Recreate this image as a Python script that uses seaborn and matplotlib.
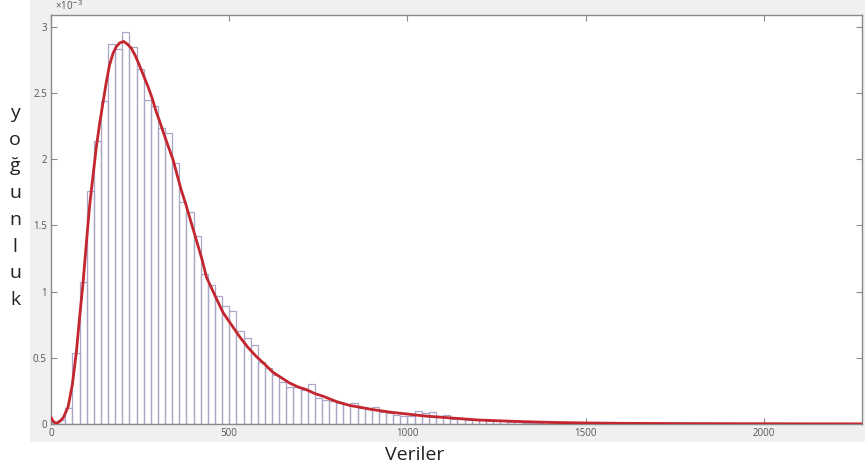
import numpy as np
import pandas as pd
import matplotlib
matplotlib.use("Agg")
import matplotlib.pyplot as plt
import seaborn as sns

# ---- data (density values in units of 1e-3) ----
bin_width = 20
bin_starts = list(range(0, 1540, 20))
bin_heights = [
    0.01, 0.03, 0.12, 0.54, 1.07, 1.76, 2.14, 2.44, 2.87, 2.83,
    2.96, 2.85, 2.68, 2.45, 2.40, 2.24, 2.20, 1.97, 1.68, 1.60,
    1.42, 1.13, 1.05, 0.97, 0.89, 0.85, 0.70, 0.65, 0.60, 0.47,
    0.42, 0.37, 0.32, 0.28, 0.28, 0.26, 0.30, 0.20, 0.18, 0.17,
    0.16, 0.15, 0.16, 0.12, 0.11, 0.13, 0.09, 0.08, 0.07, 0.06,
    0.06, 0.10, 0.08, 0.09, 0.06, 0.07, 0.04, 0.04, 0.03, 0.03,
    0.03, 0.02, 0.02, 0.02, 0.015, 0.015, 0.01, 0.01, 0.01, 0.02,
    0.01, 0.01, 0.005, 0.005, 0.005, 0.01, 0.005,
]

curve_x = [0, 6, 14, 25, 35, 48, 60, 71, 80, 90, 99, 108, 118, 127, 137, 146,
           155, 164, 174, 183, 193, 204, 214, 225, 237, 248, 260, 272, 284,
           295, 307, 318, 330, 342, 354, 365, 377, 388, 400, 412, 424, 436,
           460, 483, 506, 529, 552, 576, 600, 623, 646, 669, 693, 716, 740,
           763, 800, 838, 870, 900, 950, 1000, 1050, 1100, 1150, 1200, 1300,
           1400, 1500, 1600, 1800, 2000, 2275]
curve_y = [0.05, 0.02, 0.005, 0.02, 0.05, 0.13, 0.30, 0.54, 0.80, 1.07, 1.36,
           1.64, 1.88, 2.09, 2.28, 2.43, 2.58, 2.71, 2.80, 2.85, 2.88, 2.89,
           2.87, 2.84, 2.78, 2.71, 2.63, 2.55, 2.46, 2.36, 2.27, 2.18, 2.09,
           2.00, 1.88, 1.77, 1.67, 1.57, 1.46, 1.35, 1.24, 1.11, 0.97, 0.84,
           0.75, 0.66, 0.58, 0.51, 0.45, 0.39, 0.35, 0.31, 0.28, 0.26, 0.23,
           0.21, 0.17, 0.14, 0.125, 0.11, 0.09, 0.075, 0.06, 0.05, 0.04,
           0.03, 0.02, 0.012, 0.008, 0.005, 0.003, 0.002, 0.001]

x_ticks = [0, 500, 1000, 1500, 2000]
y_ticks = [0, 0.5, 1, 1.5, 2, 2.5, 3]
y_tick_labels = ["0", "0.5", "1", "1.5", "2", "2.5", "3"]
x_label = "Veriler"
y_label = "yoğunluk"

# ---- figure ----
sns.set_theme(style="white")
plt.rcParams["font.family"] = ["Open Sans", "DejaVu Sans"]

fig = plt.figure(figsize=(8.65, 4.72), dpi=100)
fig.patch.set_facecolor("white")

# MATLAB-like grey figure panel (background axes)
bg = fig.add_axes([30 / 865, 30 / 472, 835 / 865, 442 / 472], zorder=-5)
bg.set_facecolor("#f0f0f0")
bg.set_xticks([])
bg.set_yticks([])
for s in bg.spines.values():
    s.set_visible(False)

ax = fig.add_axes([51 / 865, 48 / 472, 811 / 865, 409 / 472], zorder=1)
ax.set_facecolor("white")

edges = bin_starts + [bin_starts[-1] + bin_width]
centers = [b + bin_width / 2 for b in bin_starts]
hist_df = pd.DataFrame({"x": centers, "w": bin_heights})
sns.histplot(data=hist_df, x="x", weights="w", bins=edges, stat="count",
             fill=False, color="#aca6c6", linewidth=0.9, ax=ax)

curve_df = pd.DataFrame({"x": curve_x, "y": curve_y})
sns.lineplot(data=curve_df, x="x", y="y", color="#c3262e", linewidth=2.0,
             ax=ax, zorder=5)

ax.set_xlim(0, 2275)
ax.set_ylim(0, 3.09)
ax.set_xticks(x_ticks)
ax.set_xticklabels([str(t) for t in x_ticks])
ax.set_yticks(y_ticks)
ax.set_yticklabels(y_tick_labels)
ax.set_xlabel("")
ax.set_ylabel("")

for s in ax.spines.values():
    s.set_visible(True)
    s.set_color("#8a8a8a")
    s.set_linewidth(1.0)

ax.tick_params(axis="both", which="both", direction="in", length=4, width=0.8,
               color="#8a8a8a", labelsize=7, labelcolor="#555555",
               top=True, right=True, bottom=True, left=True, pad=3)

fig.text(55 / 865, 1 - 6 / 472, "×10$^{-3}$", fontsize=7, color="#555555",
         ha="left", va="center")

fig.text(415 / 865, 1 - 455 / 472, x_label, fontsize=14, color="#222222",
         ha="center", va="center")

letter_top = 113
letter_step = 26.7
for i, ch in enumerate(y_label):
    fig.text(15 / 865, 1 - (letter_top + i * letter_step) / 472, ch,
             fontsize=14, color="#222222", ha="center", va="center")

fig.savefig("out.png", dpi=100, facecolor=fig.get_facecolor())
